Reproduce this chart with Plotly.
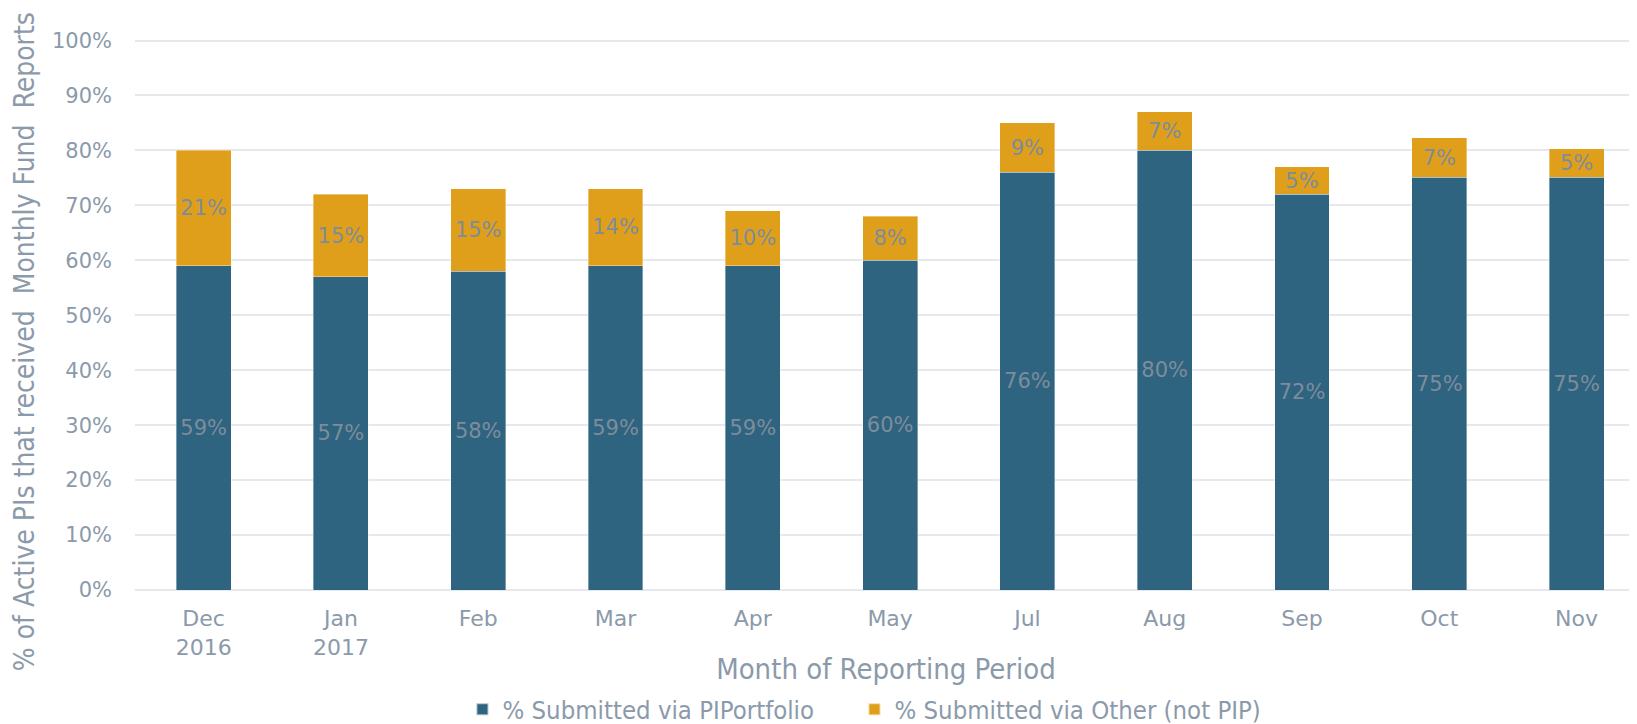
import plotly.graph_objects as go

categories = ["Dec<br>2016", "Jan<br>2017", "Feb", "Mar", "Apr", "May",
              "Jul", "Aug", "Sep", "Oct", "Nov"]
pip_values = [59, 57, 58, 59, 59, 60, 76, 80, 72, 75.1, 75.1]
other_values = [21, 15, 15, 14, 10, 8, 9, 7, 5, 7.2, 5.2]
series_names = ["% Submitted via PIPortfolio", "% Submitted via Other (not PIP)"]
y_ticks = [0, 10, 20, 30, 40, 50, 60, 70, 80, 90, 100]

BLUE = "#2e6480"
ORANGE = "#e09f1a"
TICK = "#8b9aaa"
LABEL = "#7d8c9c"
GRID = "#e5e9ee"
COND = "DejaVu Sans Condensed, Liberation Sans Narrow, Open Sans, sans-serif"
MAIN = "DejaVu Sans, Verdana, sans-serif"

fig = go.Figure()
for name, vals, col, lg in [(series_names[0], pip_values, BLUE, "legend"),
                            (series_names[1], other_values, ORANGE, "legend2")]:
    fig.add_trace(go.Bar(
        x=categories, y=vals, name=name, legend=lg,
        marker=dict(color=col, line=dict(color="rgba(255,255,255,0.6)", width=0.6)),
        text=[f"{round(v)}%" for v in vals],
        textposition="inside", insidetextanchor="middle", textangle=0,
        constraintext="none",
        textfont=dict(family=MAIN, size=21, color=LABEL),
        hoverinfo="skip",
    ))

legend_style = dict(orientation="h", xanchor="left",
                    yref="container", y=0.02, yanchor="middle",
                    font=dict(family=COND, size=25.5, color=TICK),
                    itemsizing="constant", itemwidth=30)

fig.update_layout(
    barmode="stack", bargap=0.6,
    width=1629, height=716,
    margin=dict(l=127, r=0, t=27, b=134, autoexpand=False),
    plot_bgcolor="white", paper_bgcolor="white",
    showlegend=True,
    legend=dict(x=0.218, **legend_style),
    legend2=dict(x=0.479, **legend_style),
    xaxis=dict(
        range=[-0.5, 10.44],
        tickfont=dict(family=MAIN, size=22, color=TICK),
        showline=False, showgrid=False, ticks="", ticklabelstandoff=13,
        title=dict(text="Month of Reporting Period",
                   font=dict(family=COND, size=29, color=TICK), standoff=6),
    ),
    yaxis=dict(
        range=[0, 101], tickvals=y_ticks, ticktext=[f"{v}%" for v in y_ticks],
        tickfont=dict(family=MAIN, size=21, color=TICK),
        gridcolor=GRID, gridwidth=1.5, zeroline=True, zerolinecolor=GRID, zerolinewidth=1.5,
        ticks="", ticklabelstandoff=22,
    ),
    annotations=[dict(
        text="% of Active PIs that received\u00a0 Monthly Fund\u00a0 Reports",
        xref="paper", yref="paper", x=-0.073, y=0.447, xanchor="center", yanchor="middle",
        textangle=-90, showarrow=False,
        font=dict(family=COND, size=28, color=TICK),
    )],
)

fig.write_html("out.html")
